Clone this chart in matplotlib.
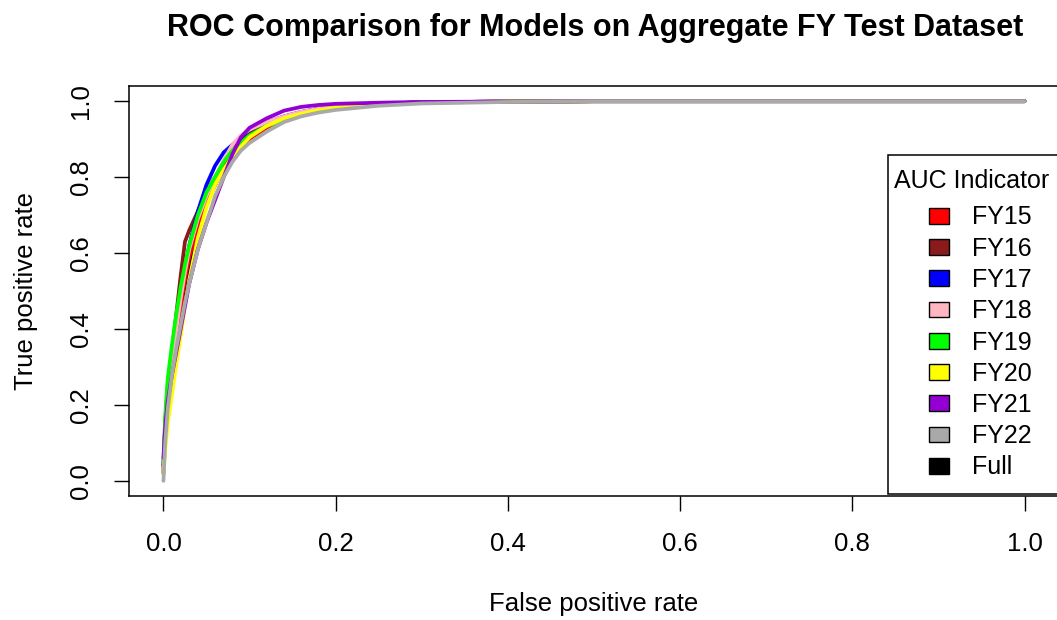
from __future__ import annotations

import matplotlib

matplotlib.use("Agg")
import matplotlib.pyplot as plt
from matplotlib.patches import Patch

plt.rcParams["font.family"] = ["Liberation Sans", "DejaVu Sans"]

# shared false positive rate grid, one tpr list per model
FPR = [0.0, 0.002, 0.005, 0.01, 0.015, 0.02, 0.025, 0.03, 0.04, 0.05, 0.06, 0.07,
       0.08, 0.09, 0.10, 0.12, 0.14, 0.16, 0.18, 0.20, 0.25, 0.30, 0.40, 0.50, 0.70, 1.0]

TPR_FULL = [0.02, 0.12, 0.22, 0.31, 0.38, 0.45, 0.50, 0.56, 0.66, 0.73, 0.78, 0.83,
            0.865, 0.89, 0.91, 0.935, 0.955, 0.968, 0.978, 0.985, 0.993, 0.997, 0.999, 1.0, 1.0, 1.0]
TPR_FY15 = [0.03, 0.13, 0.21, 0.30, 0.39, 0.46, 0.53, 0.59, 0.67, 0.73, 0.78, 0.82,
            0.85, 0.875, 0.90, 0.93, 0.955, 0.97, 0.979, 0.986, 0.993, 0.997, 0.999, 1.0, 1.0, 1.0]
TPR_FY16 = [0.04, 0.15, 0.25, 0.34, 0.44, 0.54, 0.63, 0.66, 0.71, 0.76, 0.80, 0.84,
            0.87, 0.895, 0.915, 0.94, 0.958, 0.97, 0.98, 0.986, 0.993, 0.997, 0.999, 1.0, 1.0, 1.0]
TPR_FY17 = [0.04, 0.14, 0.24, 0.33, 0.41, 0.49, 0.56, 0.62, 0.71, 0.78, 0.83, 0.865,
            0.885, 0.905, 0.925, 0.945, 0.96, 0.972, 0.98, 0.986, 0.993, 0.997, 0.999, 1.0, 1.0, 1.0]
TPR_FY18 = [0.03, 0.13, 0.23, 0.32, 0.40, 0.48, 0.55, 0.61, 0.69, 0.75, 0.80, 0.845,
            0.885, 0.91, 0.925, 0.945, 0.96, 0.972, 0.98, 0.986, 0.993, 0.997, 0.999, 1.0, 1.0, 1.0]
TPR_FY19 = [0.05, 0.17, 0.27, 0.36, 0.44, 0.51, 0.57, 0.62, 0.70, 0.76, 0.80, 0.84,
            0.87, 0.89, 0.91, 0.935, 0.95, 0.962, 0.974, 0.982, 0.991, 0.996, 0.999, 1.0, 1.0, 1.0]
TPR_FY20 = [0.02, 0.08, 0.15, 0.23, 0.31, 0.38, 0.46, 0.53, 0.64, 0.72, 0.78, 0.82,
            0.855, 0.88, 0.905, 0.935, 0.955, 0.967, 0.976, 0.983, 0.992, 0.996, 0.999, 1.0, 1.0, 1.0]
TPR_FY21 = [0.06, 0.14, 0.21, 0.28, 0.34, 0.40, 0.46, 0.52, 0.61, 0.68, 0.74, 0.80,
            0.86, 0.905, 0.93, 0.955, 0.975, 0.985, 0.99, 0.993, 0.996, 0.998, 0.999, 1.0, 1.0, 1.0]
TPR_FY22 = [0.0, 0.10, 0.19, 0.28, 0.35, 0.41, 0.47, 0.52, 0.61, 0.68, 0.75, 0.80,
            0.84, 0.87, 0.89, 0.92, 0.945, 0.96, 0.97, 0.977, 0.988, 0.994, 0.998, 1.0, 1.0, 1.0]

# draw order: Full first, then FY15..FY22 on top
SERIES = [
    ("Full", TPR_FULL, "#000000"),
    ("FY15", TPR_FY15, "#ff0000"),
    ("FY16", TPR_FY16, "#8b1a1a"),
    ("FY17", TPR_FY17, "#0000ff"),
    ("FY18", TPR_FY18, "#ffb6c1"),
    ("FY19", TPR_FY19, "#00ff00"),
    ("FY20", TPR_FY20, "#ffff00"),
    ("FY21", TPR_FY21, "#9400d3"),
    ("FY22", TPR_FY22, "#a9a9a9"),
]
LEGEND_ORDER = ["FY15", "FY16", "FY17", "FY18", "FY19", "FY20", "FY21", "FY22", "Full"]
TICKS = [0.0, 0.2, 0.4, 0.6, 0.8, 1.0]
FONT = 18.5


def main() -> None:
    fig = plt.figure(figsize=(10.57, 6.2), dpi=100)
    ax = fig.add_axes([129 / 1057, 124 / 620, 930 / 1057, 410 / 620])

    for label, tpr, color in SERIES:
        ax.plot(FPR, tpr, color=color, linewidth=2.7, solid_capstyle="round", label=label)

    ax.set_xlim(-0.04, 1.04)
    ax.set_ylim(-0.04, 1.04)
    ax.set_xticks(TICKS)
    ax.set_yticks(TICKS)
    ax.set_xticklabels([f"{t:.1f}" for t in TICKS])
    ax.set_yticklabels([f"{t:.1f}" for t in TICKS], rotation=90, va="center")
    ax.tick_params(direction="out", length=11, width=1, labelsize=FONT, pad=15)
    for spine in ax.spines.values():
        spine.set_linewidth(1.1)

    ax.set_xlabel("False positive rate", fontsize=FONT, labelpad=26)
    ax.set_ylabel("True positive rate", fontsize=FONT, labelpad=22)
    fig.text(595 / 1057, 1 - 28 / 620, "ROC Comparison for Models on Aggregate FY Test Dataset",
             ha="center", va="center", fontsize=22, fontweight="bold")

    colors = {label: color for label, _, color in SERIES}
    handles = [Patch(facecolor=colors[k], edgecolor="black", linewidth=1, label=k) for k in LEGEND_ORDER]
    leg = ax.legend(
        handles=handles,
        title="AUC Indicator",
        loc="lower left",
        bbox_to_anchor=(888 / 1057, 126 / 620),
        bbox_transform=fig.transFigure,
        fontsize=18,
        title_fontsize=18,
        frameon=True,
        fancybox=False,
        framealpha=1,
        borderaxespad=0,
        handlelength=0.8,
        handleheight=0.6,
        handletextpad=0.9,
        labelspacing=0.29,
        borderpad=0.58,
    )
    # extra room between the title and the first entry
    leg._legend_box.sep = 9
    # nudge the title left (pixels), R puts it close to the box edge
    leg.get_title().set_position((-8, 0))
    leg.get_frame().set_edgecolor("black")
    leg.get_frame().set_linewidth(1.1)

    fig.savefig("out.png", dpi=100)
    plt.close(fig)


if __name__ == "__main__":
    main()
